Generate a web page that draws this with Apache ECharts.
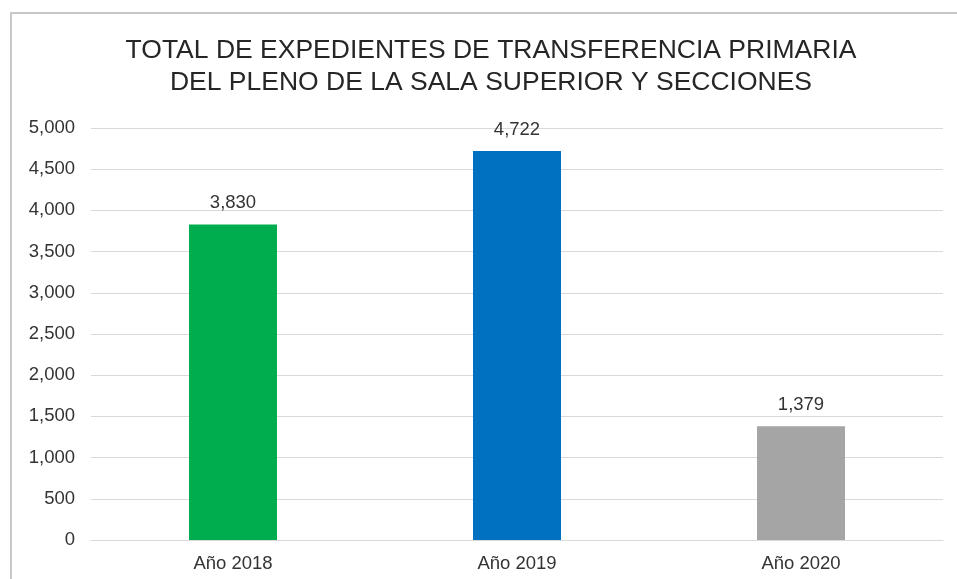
<!DOCTYPE html>
<html><head><meta charset="utf-8">
<script src="https://cdn.jsdelivr.net/npm/echarts@6/dist/echarts.min.js"></script>
<style>html,body{margin:0;padding:0;background:#fff}#c{width:957px;height:579px}</style>
</head><body><div id="c"></div>
<script>
const categories = ['Año 2018', 'Año 2019', 'Año 2020'];
const values = [3830, 4722, 1379];
const barColors = ['#00AD4E', '#0070C0', '#A5A5A5'];
const yTicks = { min: 0, max: 5000, interval: 500 };

const FONT = 'Liberation Sans, Arial, sans-serif';
const chart = echarts.init(document.getElementById('c'), null, { renderer: 'canvas' });
chart.setOption({
  animation: false,
  backgroundColor: '#fff',
  title: {
    text: 'TOTAL DE EXPEDIENTES DE TRANSFERENCIA PRIMARIA\nDEL PLENO DE LA SALA SUPERIOR Y SECCIONES',
    left: 491, top: 35, textAlign: 'center', padding: 0,
    textStyle: { fontFamily: FONT, fontSize: 26.5, fontWeight: 'normal', color: '#262626', lineHeight: 32 }
  },
  graphic: [{
    type: 'rect', shape: { x: 11, y: 13, width: 960, height: 600 },
    style: { fill: 'none', stroke: '#c8c8c8', lineWidth: 2 }, silent: true
  }],
  grid: { left: 91, right: 14, top: 128, bottom: 39, containLabel: false },
  xAxis: {
    type: 'category', data: categories,
    axisLine: { show: true, lineStyle: { color: '#d9d9d9' } },
    axisTick: { show: false },
    axisLabel: { fontFamily: FONT, fontSize: 18.5, color: '#333', margin: 14 }
  },
  yAxis: {
    type: 'value', min: yTicks.min, max: yTicks.max, interval: yTicks.interval,
    axisLine: { show: false }, axisTick: { show: false },
    splitLine: { lineStyle: { color: '#d9d9d9', width: 1 } },
    axisLabel: {
      fontFamily: FONT, fontSize: 18.5, color: '#333', margin: 16,
      formatter: v => v.toLocaleString('en-US')
    }
  },
  series: [{
    type: 'bar', barWidth: 88,
    data: values.map((v, i) => ({ value: v, itemStyle: { color: barColors[i] } })),
    label: {
      show: true, position: 'top', distance: 12,
      fontFamily: FONT, fontSize: 18.5, color: '#333',
      formatter: p => p.value.toLocaleString('en-US')
    }
  }]
});
</script></body></html>
